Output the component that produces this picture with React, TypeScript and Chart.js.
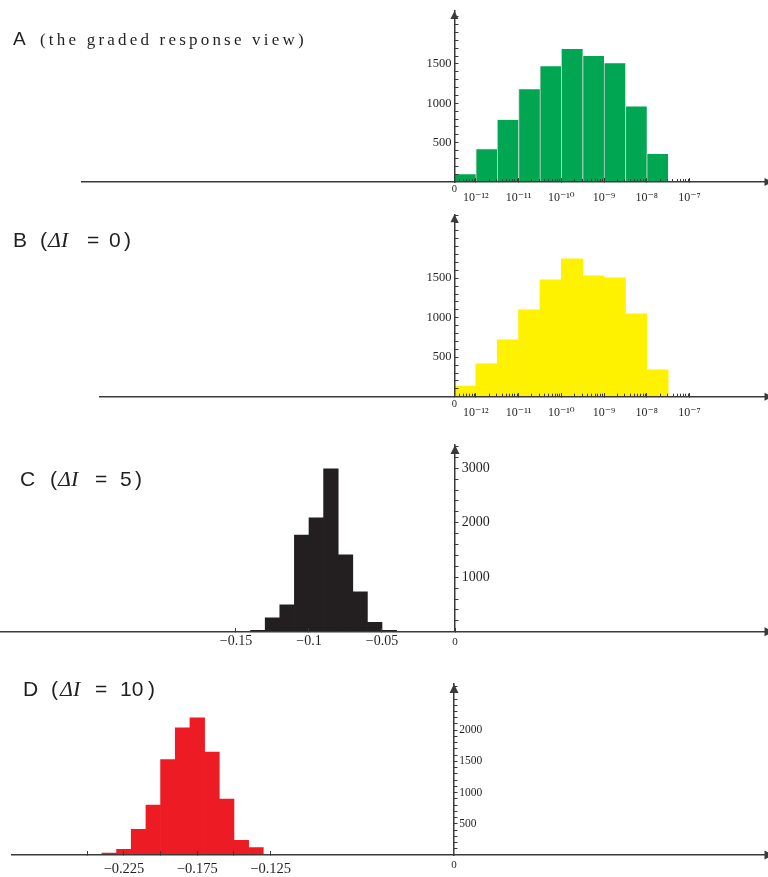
import { useEffect, useRef } from 'react';
import { Chart, registerables } from 'chart.js';

Chart.register(...registerables);

const AXIS = '#3a3a3a';
const TEXT = '#231f20';
const SERIF = '"Liberation Serif", "Times New Roman", "DejaVu Serif", serif';
const SANS = '"Liberation Sans", Arial, "DejaVu Sans", sans-serif';

// ---------- Panels A and B: x measured in half-decade steps (0 = origin, 10^-12 at 1, 10^-11 at 3 ...)
const binCentersAB = [0.5, 1.5, 2.5, 3.5, 4.5, 5.5, 6.5, 7.5, 8.5, 9.5];
const countsA = [100, 415, 790, 1180, 1470, 1690, 1600, 1510, 960, 355];
const countsB = [135, 415, 720, 1100, 1480, 1745, 1530, 1505, 1050, 340];
const xTicksAB = [0, 1, 3, 5, 7, 9, 11];
const xTickLabelsAB = ['0', '10⁻¹²', '10⁻¹¹', '10⁻¹⁰', '10⁻⁹', '10⁻⁸', '10⁻⁷'];
const yLabelledAB = [500, 1000, 1500];
const minorDecadesAB = [-13, -12, -11, -10, -9, -8];
const minorMantissas = [2, 3, 4, 5, 6, 7, 8, 9];

// ---------- Panel C
const binCentersC = [-0.135, -0.125, -0.115, -0.105, -0.095, -0.085, -0.075, -0.065, -0.055, -0.045];
const countsC = [25, 255, 495, 1775, 2090, 2990, 1410, 730, 170, 25];
const xTicksC = [-0.15, -0.1, -0.05, 0];
const xTickLabelsC = ['−0.15', '−0.1', '−0.05', '0'];
const yLabelledC = [1000, 2000, 3000];

// ---------- Panel D
const binCentersD = [-0.235, -0.225, -0.215, -0.205, -0.195, -0.185, -0.175, -0.165, -0.155, -0.145, -0.135];
const countsD = [30, 90, 410, 800, 1530, 2040, 2200, 1650, 895, 235, 120];
const xTicksD = [-0.25, -0.225, -0.2, -0.175, -0.15, -0.125, 0];
const xTickLabelsD = ['', '−0.225', '', '−0.175', '', '−0.125', '0'];
const yLabelledD = [500, 1000, 1500, 2000];

// tick-mark helpers (positions of marks only, not data)
const stepTicks = (step: number, max: number) => {
  const out: number[] = [];
  for (let v = step; v <= max + 1e-9; v += step) out.push(Math.round(v));
  return out;
};
const logMinorAB = minorDecadesAB
  .flatMap((k) => minorMantissas.map((m) => 1 + 2 * (k + 12) + 2 * Math.log10(m)))
  .filter((u) => u >= 0);

const axisDecor = {
  id: 'axisDecor',
  afterDraw(chart: any, _args: any, opts: any) {
    const { ctx, chartArea } = chart;
    const xs = chart.scales.x;
    const ys = chart.scales.y;
    const x0 = xs.getPixelForValue(0);
    const y0 = ys.getPixelForValue(0);
    const a = opts.arrow || 8;
    ctx.save();
    ctx.strokeStyle = AXIS;
    ctx.fillStyle = AXIS;
    ctx.lineWidth = 1;
    (opts.xMinor || []).forEach((v: number) => {
      const px = Math.round(xs.getPixelForValue(v)) + 0.5;
      ctx.beginPath();
      ctx.moveTo(px, y0);
      ctx.lineTo(px, y0 - 3);
      ctx.stroke();
    });
    // up arrow
    ctx.beginPath();
    ctx.moveTo(x0, chartArea.top);
    ctx.lineTo(x0 - a / 2, chartArea.top + a);
    ctx.lineTo(x0 + a / 2, chartArea.top + a);
    ctx.closePath();
    ctx.fill();
    // right arrow
    const xb = chartArea.right - 1.5;
    ctx.beginPath();
    ctx.moveTo(xb + a, y0);
    ctx.lineTo(xb, y0 - a / 2);
    ctx.lineTo(xb, y0 + a / 2);
    ctx.closePath();
    ctx.fill();
    // y tick labels, placed on the requested side of the y axis
    const yl = opts.yLabels;
    if (yl) {
      ctx.fillStyle = TEXT;
      ctx.font = `${yl.size}px ${SERIF}`;
      ctx.textBaseline = 'middle';
      ctx.textAlign = yl.side === 'right' ? 'left' : 'right';
      const tx = yl.side === 'right' ? x0 + yl.gap : x0 - yl.gap;
      yl.values.forEach((v: number) => {
        ctx.fillText(String(v), tx, ys.getPixelForValue(v));
      });
    }
    ctx.restore();
  },
};

type Spec = {
  centers: number[];
  counts: number[];
  color: string;
  sep?: string;
  xMin: number;
  xMax: number;
  yMax: number;
  pad: { left: number; right: number; top: number; bottom: number };
  xTicks: number[];
  xLabels: string[];
  xFont: (label: string) => any;
  xPad: number;
  yTicks: number[];
  yLabelled: number[];
  ySide: 'left' | 'right';
  yGap: number;
  ySize: number;
  xMinor?: number[];
  arrow: number;
};

function makeConfig(s: Spec): any {
  const grid = {
    display: true,
    drawOnChartArea: false,
    drawTicks: true,
    tickLength: -4.5,
    tickColor: AXIS,
    tickWidth: 1,
    z: 1,
    offset: false,
  };
  const border = { display: true, color: AXIS, width: 1.5, z: 1 };
  return {
    type: 'bar',
    data: {
      datasets: [
        {
          data: s.centers.map((x, i) => ({ x, y: s.counts[i] })),
          backgroundColor: s.color,
          borderColor: s.sep || s.color,
          borderWidth: s.sep ? { left: 1, top: 0, right: 0, bottom: 0 } : 0,
          borderSkipped: false,
          barPercentage: 1,
          categoryPercentage: 1,
        },
      ],
    },
    options: {
      responsive: false,
      animation: false,
      devicePixelRatio: 1,
      events: [],
      layout: { padding: s.pad },
      plugins: {
        legend: { display: false },
        tooltip: { enabled: false },
        axisDecor: {
          xMinor: s.xMinor || [],
          arrow: s.arrow,
          yLabels: { values: s.yLabelled, side: s.ySide, gap: s.yGap, size: s.ySize },
        },
      },
      scales: {
        x: {
          type: 'linear',
          axis: 'x',
          position: { y: 0 },
          min: s.xMin,
          max: s.xMax,
          offset: false,
          grid,
          border,
          afterBuildTicks: (sc: any) => {
            sc.ticks = s.xTicks.map((value) => ({ value }));
          },
          ticks: {
            autoSkip: false,
            maxRotation: 0,
            minRotation: 0,
            padding: s.xPad,
            color: TEXT,
            z: 1,
            callback: (_v: any, i: number) => s.xLabels[i],
            font: (ctx: any) => s.xFont(ctx.index !== undefined ? s.xLabels[ctx.index] ?? '' : ''),
          },
        },
        y: {
          type: 'linear',
          axis: 'y',
          position: { x: 0 },
          min: 0,
          max: s.yMax,
          grid,
          border,
          afterBuildTicks: (sc: any) => {
            sc.ticks = s.yTicks.map((value) => ({ value }));
          },
          ticks: {
            autoSkip: false,
            display: false,
          },
        },
      },
    },
    plugins: [axisDecor],
  };
}

const fontAB = (label: string) =>
  label === '0'
    ? { family: SERIF, size: 10.5, lineHeight: '19.6px' }
    : { family: SERIF, size: 12, lineHeight: '36.6px' };

const specA: Spec = {
  centers: binCentersAB,
  counts: countsA,
  color: '#00a651',
  sep: '#c9d3cd',
  xMin: -17.43,
  xMax: 14.58,
  yMax: 2173,
  pad: { left: 82, right: 2, top: 11, bottom: 30 },
  xTicks: xTicksAB,
  xLabels: xTickLabelsAB,
  xFont: fontAB,
  xPad: 2,
  yTicks: stepTicks(100, 2100),
  yLabelled: yLabelledAB,
  ySide: 'left',
  yGap: 3,
  ySize: 12.5,
  xMinor: logMinorAB,
  arrow: 8,
};

const specB: Spec = {
  ...specA,
  counts: countsB,
  color: '#fff200',
  sep: undefined,
  xMin: -16.59,
  yMax: 2309,
  pad: { left: 100, right: 2, top: 2.3, bottom: 25.3 },
  yTicks: stepTicks(100, 2300),
};

const specC: Spec = {
  centers: binCentersC,
  counts: countsC,
  color: '#231f20',
  xMin: -0.31164,
  xMax: 0.21301,
  yMax: 3426,
  pad: { left: 0, right: 2, top: 23, bottom: 25.3 },
  xTicks: xTicksC,
  xLabels: xTickLabelsC,
  xFont: (label) =>
    label === '0'
      ? { family: SERIF, size: 11, lineHeight: '16.8px' }
      : { family: SERIF, size: 14, lineHeight: '16.8px' },
  xPad: 6.1,
  yTicks: stepTicks(200, 3400),
  yLabelled: yLabelledC,
  ySide: 'right',
  yGap: 6.7,
  ySize: 14,
  arrow: 9,
};

const specD: Spec = {
  centers: binCentersD,
  counts: countsD,
  color: '#ed1c24',
  xMin: -0.3015,
  xMax: 0.21268,
  yMax: 2741,
  pad: { left: 11.7, right: 2, top: 27, bottom: 22 },
  xTicks: xTicksD,
  xLabels: xTickLabelsD,
  xFont: (label) =>
    label === '0'
      ? { family: SERIF, size: 11, lineHeight: '24.4px' }
      : { family: SERIF, size: 14.5, lineHeight: '33px' },
  xPad: 2,
  yTicks: stepTicks(100, 2700),
  yLabelled: yLabelledD,
  ySide: 'right',
  yGap: 5.3,
  ySize: 11.5,
  arrow: 9,
};

function Panel({ top, height, spec }: { top: number; height: number; spec: Spec }) {
  const ref = useRef<HTMLCanvasElement | null>(null);
  useEffect(() => {
    if (!ref.current) return;
    const chart = new Chart(ref.current, makeConfig(spec));
    return () => chart.destroy();
  }, [spec]);
  return (
    <canvas
      ref={ref}
      width={768}
      height={height}
      style={{ position: 'absolute', left: 0, top, width: 768, height, display: 'block' }}
    />
  );
}

type Piece = { t: string; x: number; serif?: boolean; s: number; i?: boolean; ls?: number };

function Title({ baseline, pieces }: { baseline: number; pieces: Piece[] }) {
  return (
    <>
      {pieces.map((p, k) => {
        const k0 = p.serif ? 0.3375 : 0.3465;
        const top = baseline - 12 - k0 * p.s;
        return (
          <span
            key={k}
            style={{
              position: 'absolute',
              left: p.x,
              top,
              fontFamily: p.serif ? SERIF : SANS,
              fontSize: p.s,
              fontStyle: p.i ? 'italic' : 'normal',
              lineHeight: '24px',
              whiteSpace: 'pre',
              letterSpacing: p.ls ?? 0,
              color: TEXT,
            }}
          >
            {p.t}
          </span>
        );
      })}
    </>
  );
}

export default function App() {
  return (
    <div
      style={{
        position: 'absolute',
        left: 0,
        top: 0,
        width: 768,
        height: 877,
        background: '#ffffff',
        overflow: 'hidden',
      }}
    >
      <Panel top={0} height={212} spec={specA} />
      <Panel top={212} height={210} spec={specB} />
      <Panel top={422} height={235} spec={specC} />
      <Panel top={657} height={220} spec={specD} />
      <Title
        baseline={46}
        pieces={[
          { t: 'A', x: 13, s: 19 },
          { t: '(the graded response view)', x: 40, s: 17, serif: true, ls: 3.2 },
        ]}
      />
      <Title
        baseline={247}
        pieces={[
          { t: 'B', x: 13, s: 21 },
          { t: '(', x: 40, s: 21 },
          { t: 'ΔI', x: 48, s: 22, serif: true, i: true },
          { t: '=', x: 87, s: 21 },
          { t: '0', x: 109, s: 21 },
          { t: ')', x: 124, s: 21 },
        ]}
      />
      <Title
        baseline={486}
        pieces={[
          { t: 'C', x: 20, s: 21 },
          { t: '(', x: 50, s: 21 },
          { t: 'ΔI', x: 58, s: 22, serif: true, i: true },
          { t: '=', x: 95, s: 21 },
          { t: '5', x: 120, s: 21 },
          { t: ')', x: 135, s: 21 },
        ]}
      />
      <Title
        baseline={696}
        pieces={[
          { t: 'D', x: 23, s: 21 },
          { t: '(', x: 51, s: 21 },
          { t: 'ΔI', x: 60, s: 22, serif: true, i: true },
          { t: '=', x: 95, s: 21 },
          { t: '10', x: 120, s: 21 },
          { t: ')', x: 148, s: 21 },
        ]}
      />
    </div>
  );
}
